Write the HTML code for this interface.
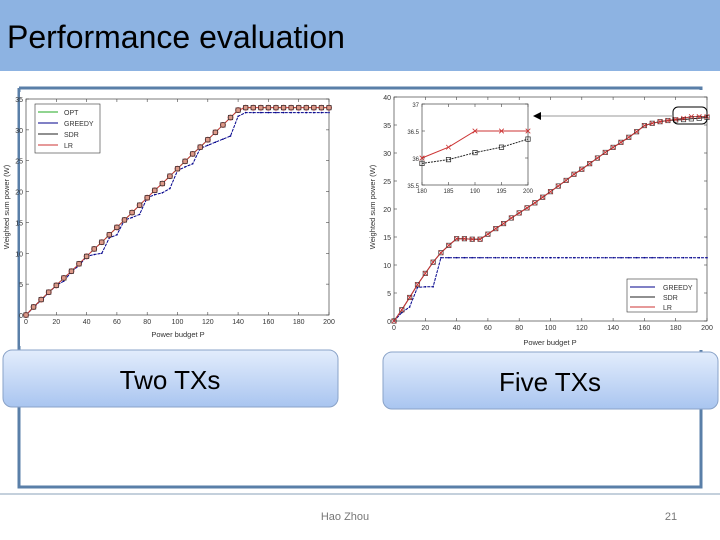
<!DOCTYPE html>
<html><head><meta charset="utf-8"><style>
body{margin:0;width:720px;height:540px;overflow:hidden;background:#fff;font-family:"Liberation Sans",sans-serif}
svg{display:block}
</style></head><body>
<svg id="s" width="720" height="540" xmlns="http://www.w3.org/2000/svg">
<defs><linearGradient id="g" x1="0" y1="0" x2="0" y2="1"><stop offset="0" stop-color="#e3edfc"/><stop offset="1" stop-color="#a9c5f0"/></linearGradient></defs>
<rect x="0" y="0" width="720" height="71" fill="#8db3e2"/>
<text x="7" y="48" font-size="32" fill="#000">Performance evaluation</text>
<path d="M19 88 H701 V97 M19 88 V487 H701 V350" fill="none" stroke="#5a7fa8" stroke-width="3"/>
<rect x="20" y="92" width="318" height="254" fill="#fff"/>
<rect x="365" y="90" width="352" height="258" fill="#fff"/>
<g id="L"></g>
<g id="R"></g>
<rect x="3" y="350" width="335" height="57" rx="9" fill="url(#g)" stroke="#8aa3c8"/>
<text x="170" y="389" font-size="26" text-anchor="middle">Two TXs</text>
<rect x="383" y="352" width="335" height="57" rx="9" fill="url(#g)" stroke="#8aa3c8"/>
<text x="550" y="391" font-size="26" text-anchor="middle">Five TXs</text>
<line x1="0" y1="494" x2="720" y2="494" stroke="#8aa0b8"/>
<text x="345" y="520" font-size="11" fill="#777" text-anchor="middle">Hao Zhou</text>
<text x="671" y="520" font-size="11" fill="#777" text-anchor="middle">21</text>
</svg>
<script>
const NS="http://www.w3.org/2000/svg";
const xs=[];for(let i=0;i<=200;i+=5)xs.push(i);
const leftOpt=[0,1.3,2.5,3.7,4.8,6,7.1,8.3,9.5,10.7,11.8,13,14.2,15.4,16.6,17.8,19,20.2,21.3,22.5,23.7,24.9,26.1,27.2,28.4,29.6,30.8,32,33.2,33.6,33.6,33.6,33.6,33.6,33.6,33.6,33.6,33.6,33.6,33.6,33.6];
const leftGreedy=[0,1.2,2.4,3.6,4.8,5.5,7,8,9.5,9.8,10,12.5,13,15.4,15.8,16.3,19,19.5,19.8,20.5,23.4,24,24.5,27,27.5,28,28.5,29,32.2,32.8,32.8,32.8,32.8,32.8,32.8,32.8,32.8,32.8,32.8,32.8,32.8];
const rightLR=[0,2,4.2,6.5,8.5,10.5,12.2,13.5,14.7,14.7,14.6,14.6,15.5,16.5,17.4,18.4,19.3,20.2,21.1,22.1,23.1,24.1,25.1,26.2,27.1,28.1,29.1,30.1,31,31.9,32.8,33.8,34.9,35.3,35.6,35.8,36,36.2,36.5,36.5,36.5];
const rightSDR=[0,2,4.2,6.5,8.5,10.5,12.2,13.5,14.7,14.7,14.6,14.6,15.5,16.5,17.4,18.4,19.3,20.2,21.1,22.1,23.1,24.1,25.1,26.2,27.1,28.1,29.1,30.1,31,31.9,32.8,33.8,34.9,35.3,35.6,35.8,35.9,35.97,36.1,36.2,36.35];
const rightGreedy=[0,1.5,2.5,6,6.1,6.1,11.3,11.3,11.3,11.3,11.3,11.3,11.3,11.3,11.3,11.3,11.3,11.3,11.3,11.3,11.3,11.3,11.3,11.3,11.3,11.3,11.3,11.3,11.3,11.3,11.3,11.3,11.3,11.3,11.3,11.3,11.3,11.3,11.3,11.3,11.3];
const leftYTicks=[0,5,10,15,20,25,30,35];
const rightYTicks=[0,5,10,15,20,25,30,35,40];
const xTicks=[0,20,40,60,80,100,120,140,160,180,200];
const insetX=[180,185,190,195,200];
const insetYTicks=[35.5,36,36.5,37];
function el(p,t,a){const e=document.createElementNS(NS,t);for(const k in a)e.setAttribute(k,a[k]);p.appendChild(e);return e;}
function txt(p,x,y,s,sz,anc,rot){const t=el(p,'text',{x:x,y:y,'font-size':sz,'text-anchor':anc||'middle',fill:'#333'});if(rot)t.setAttribute('transform',`rotate(-90 ${x} ${y})`);t.textContent=s;return t;}
function axes(g,x0,x1,y0,y1,xmin,xmax,ymin,ymax){return {X:v=>x0+(v-xmin)/(xmax-xmin)*(x1-x0),Y:v=>y0-(v-ymin)/(ymax-ymin)*(y0-y1)};}
function frame(g,a,x0,x1,y0,y1,xt,yt,sz){
 el(g,'rect',{x:x0,y:y1,width:x1-x0,height:y0-y1,fill:'none',stroke:'#444','stroke-width':0.7});
 xt.forEach(v=>{const x=a.X(v);el(g,'line',{x1:x,y1:y0,x2:x,y2:y0-3,stroke:'#444','stroke-width':0.6});el(g,'line',{x1:x,y1:y1,x2:x,y2:y1+3,stroke:'#444','stroke-width':0.6});const t=txt(g,x,y0+sz+2,String(v),sz);});
 yt.forEach(v=>{const y=a.Y(v);el(g,'line',{x1:x0,y1:y,x2:x0+3,y2:y,stroke:'#444','stroke-width':0.6});el(g,'line',{x1:x1,y1:y,x2:x1-3,y2:y,stroke:'#444','stroke-width':0.6});const t=txt(g,x0-3,y+3,String(v),sz,'end');});
}
function line(g,a,X,Y,color,dash,name){const d=X.map((x,i)=>(i?'L':'M')+a.X(x).toFixed(1)+' '+a.Y(Y[i]).toFixed(1)).join(' ');const p=el(g,'path',{d:d,fill:'none',stroke:color,'stroke-width':1,'stroke-dasharray':dash||'none'});}
function marks(g,a,X,Y,type,color,name){X.forEach((x,i)=>{const cx=a.X(x),cy=a.Y(Y[i]);let m;
 if(type==='sq')m=el(g,'rect',{x:cx-2.2,y:cy-2.2,width:4.4,height:4.4,fill:'none',stroke:color,'stroke-width':0.7});
 else if(type==='ci')m=el(g,'circle',{cx:cx,cy:cy,r:2.6,fill:'#d98',stroke:'#c33','stroke-width':0.7});
 else if(type==='x')m=el(g,'path',{d:`M${cx-2.3} ${cy-2.3}L${cx+2.3} ${cy+2.3}M${cx-2.3} ${cy+2.3}L${cx+2.3} ${cy-2.3}`,stroke:color,'stroke-width':0.8});
 else m=el(g,'circle',{cx:cx,cy:cy,r:0.8,fill:color});
 });}
// LEFT
const L=document.getElementById('L');
const la=axes(L,26,329,315,99,0,200,0,35);
frame(L,la,26,329,315,99,xTicks,leftYTicks,7);
line(L,la,xs,leftGreedy,'#00008b','3,1','greedy-line');marks(L,la,xs,leftGreedy,'dot','#00008b','greedy-point');
line(L,la,xs,leftOpt,'#2a2','3,2','opt-line');
line(L,la,xs,leftOpt,'#c33',null,'lr-line');
marks(L,la,xs,leftOpt,'ci','#a33','opt-point');marks(L,la,xs,leftOpt,'sq','#333','sdr-point');
txt(L,178,337,'Power budget P',7.5);
txt(L,9,207,'Weighted sum power (W)',7.5,'middle',true);
el(L,'rect',{x:35,y:104,width:65,height:49,fill:'#fff',stroke:'#333','stroke-width':0.6});
[['OPT','#2a2'],['GREEDY','#00008b'],['SDR','#222'],['LR','#c33']].forEach((e,i)=>{const y=112+i*11;el(L,'line',{x1:38,y1:y,x2:58,y2:y,stroke:e[1]});const t=txt(L,64,y+3,e[0],7,'start');});
// RIGHT
const R=document.getElementById('R');
const ra=axes(R,394,707,321,97,0,200,0,40);
frame(R,ra,394,707,321,97,xTicks,rightYTicks,7);
line(R,ra,xs,rightGreedy,'#00008b','3,1','greedy-line');marks(R,ra,xs,rightGreedy,'dot','#00008b','greedy-point');
line(R,ra,xs,rightSDR,'#222',null,'sdr-line');line(R,ra,xs,rightLR,'#c33',null,'lr-line');
marks(R,ra,xs,rightSDR,'sq','#333','sdr-point');marks(R,ra,xs,rightLR,'x','#c33','lr-point');
txt(R,550,345,'Power budget P',7.5);
txt(R,375,207,'Weighted sum power (W)',7.5,'middle',true);
el(R,'rect',{x:627,y:279,width:70,height:33,fill:'#fff',stroke:'#333','stroke-width':0.6});
[['GREEDY','#00008b'],['SDR','#222'],['LR','#c33']].forEach((e,i)=>{const y=287+i*10;el(R,'line',{x1:630,y1:y,x2:655,y2:y,stroke:e[1]});const t=txt(R,663,y+3,e[0],7,'start');});
el(R,'rect',{x:673,y:107,width:34,height:17,rx:5,fill:'none',stroke:'#000'});
el(R,'line',{x1:673,y1:116,x2:540,y2:116,stroke:'#999'});
el(R,'path',{d:'M533 116 L541 112 L541 120Z',fill:'#000'});
// inset
const I=el(R,'g',{});
el(I,'rect',{x:422,y:104,width:106,height:81,fill:'#fff'});
const ia=axes(I,422,528,185,104,180,200,35.5,37);
frame(I,ia,422,528,185,104,insetX,insetYTicks,6);
const sSDR=rightSDR.slice(36),sLR=rightLR.slice(36);
line(I,ia,insetX,sSDR,'#222','2,1','inset-sdr-line');line(I,ia,insetX,sLR,'#c33',null,'inset-lr-line');
marks(I,ia,insetX,sSDR,'sq','#222','inset-sdr-point');marks(I,ia,insetX,sLR,'x','#c33','inset-lr-point');
</script>
</body></html>
